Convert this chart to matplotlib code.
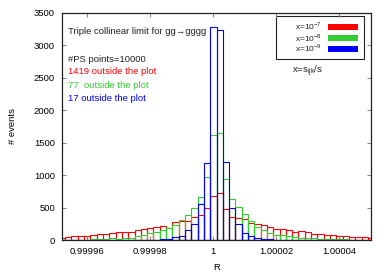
import matplotlib
matplotlib.use("Agg")
import matplotlib.pyplot as plt
from matplotlib.patches import Rectangle
import numpy as np

plt.rcParams['font.family'] = ['Liberation Sans', 'DejaVu Sans']

# bin index k -> R = 1 + k*2e-6
bin_index = list(range(-24, 26))
bin_width = 2e-6

counts_1e7 = [36, 51, 67, 62, 67, 72, 92, 87, 103, 118, 123, 128, 149, 164, 180, 200,
              211, 190, 272, 290, 300, 350, 385, 488, 673, 720, 478, 360, 334, 320,
              257, 240, 225, 195, 175, 164, 149, 118, 139, 118, 98, 87, 82, 77, 62,
              57, 51, 46, 41, 26]
counts_1e8 = [0, 2, 3, 5, 5, 8, 10, 15, 26, 20, 36, 36, 62, 77, 103, 128,
              160, 180, 231, 308, 380, 488, 658, 966, 1619, 1645, 940, 638, 514, 396,
              288, 195, 150, 113, 80, 72, 62, 42, 36, 26, 30, 20, 15, 12, 10,
              8, 6, 5, 4, 3]
counts_1e9 = [0, 0, 0, 0, 0, 0, 0, 1, 0, 1, 2, 1, 3, 2, 5, 5,
              10, 20, 40, 62, 154, 241, 550, 1182, 3280, 3245, 1197, 499, 241, 113,
              62, 36, 15, 8, 5, 3, 2, 1, 1, 0, 1, 0, 0, 0, 0,
              0, 0, 0, 0, 0]

series_labels = ['x=10$^{\\mathregular{-7}}$', 'x=10$^{\\mathregular{-8}}$', 'x=10$^{\\mathregular{-9}}$']
series_colors = ['#ff0000', '#33cc33', '#0000ff']
info_lines = ['#PS points=10000', '1419 outside the plot', '77  outside the plot', '17 outside the plot']
title_text = 'Triple collinear limit for gg\u2192gggg'
xtick_vals = [0.99996, 0.99998, 1.0, 1.00002, 1.00004]
xtick_labels = ['0.99996', '0.99998', '1', '1.00002', '1.00004']
ytick_vals = [0, 500, 1000, 1500, 2000, 2500, 3000, 3500]

fig = plt.figure(figsize=(3.89, 2.73), dpi=100)
ax = fig.add_axes([62/389, 33/273, 309/389, 227/273])

centers = 1.0 + np.array(bin_index) * bin_width
for vals, col in zip([counts_1e7, counts_1e8, counts_1e9], series_colors):
    ax.bar(centers, vals, width=bin_width, fill=False, edgecolor=col, linewidth=0.8)

ax.set_xlim(0.999952, 1.00005)
ax.set_ylim(0, 3500)
ax.set_xticks(xtick_vals)
ax.set_xticklabels(xtick_labels)
ax.set_yticks(ytick_vals)
ax.tick_params(direction='in', length=3, width=0.8, color='#888888', top=True, right=True,
               labelsize=6.8, pad=5)
for s in ax.spines.values():
    s.set_linewidth(0.9)
    s.set_color('#222222')

ax.set_xlabel('R', fontsize=6.8, labelpad=5)
ax.set_ylabel('# events', fontsize=6.8, labelpad=12)

fs = 6.8
ax.text(6/309, (240-32)/227, title_text, transform=ax.transAxes, fontsize=fs, va='center', color='#222222')
info_cols = ['#222222'] + series_colors
info_y = [59, 72, 85, 98.3]
for t, c, y in zip(info_lines, info_cols, info_y):
    ax.text(6/309, (240-y)/227, t, transform=ax.transAxes, fontsize=fs, va='center', color=c)

# legend box
ax.add_patch(Rectangle(((276-62)/309, (240-59.3)/227), (364.3-276)/309, (59.3-16)/227,
                       transform=ax.transAxes, fill=False, edgecolor='#222222', linewidth=0.8))
sw_y = [27, 38, 49]
for lab, col, y in zip(series_labels, series_colors, sw_y):
    ax.add_patch(Rectangle(((328.3-62)/309, (240-y-3)/227), 29.4/309, 6/227,
                           transform=ax.transAxes, facecolor=col, edgecolor='none'))
    ax.text((322-62)/309, (240-y+0.5)/227, lab, transform=ax.transAxes, fontsize=6.0,
            ha='right', va='center', color='#222222')

ax.text((291.7-62)/309, (240-71.7)/227, 'x=s$_{\\mathregular{ijk}}$/s', transform=ax.transAxes,
        fontsize=fs, va='center', color='#222222')

fig.savefig('out.png', dpi=100)
